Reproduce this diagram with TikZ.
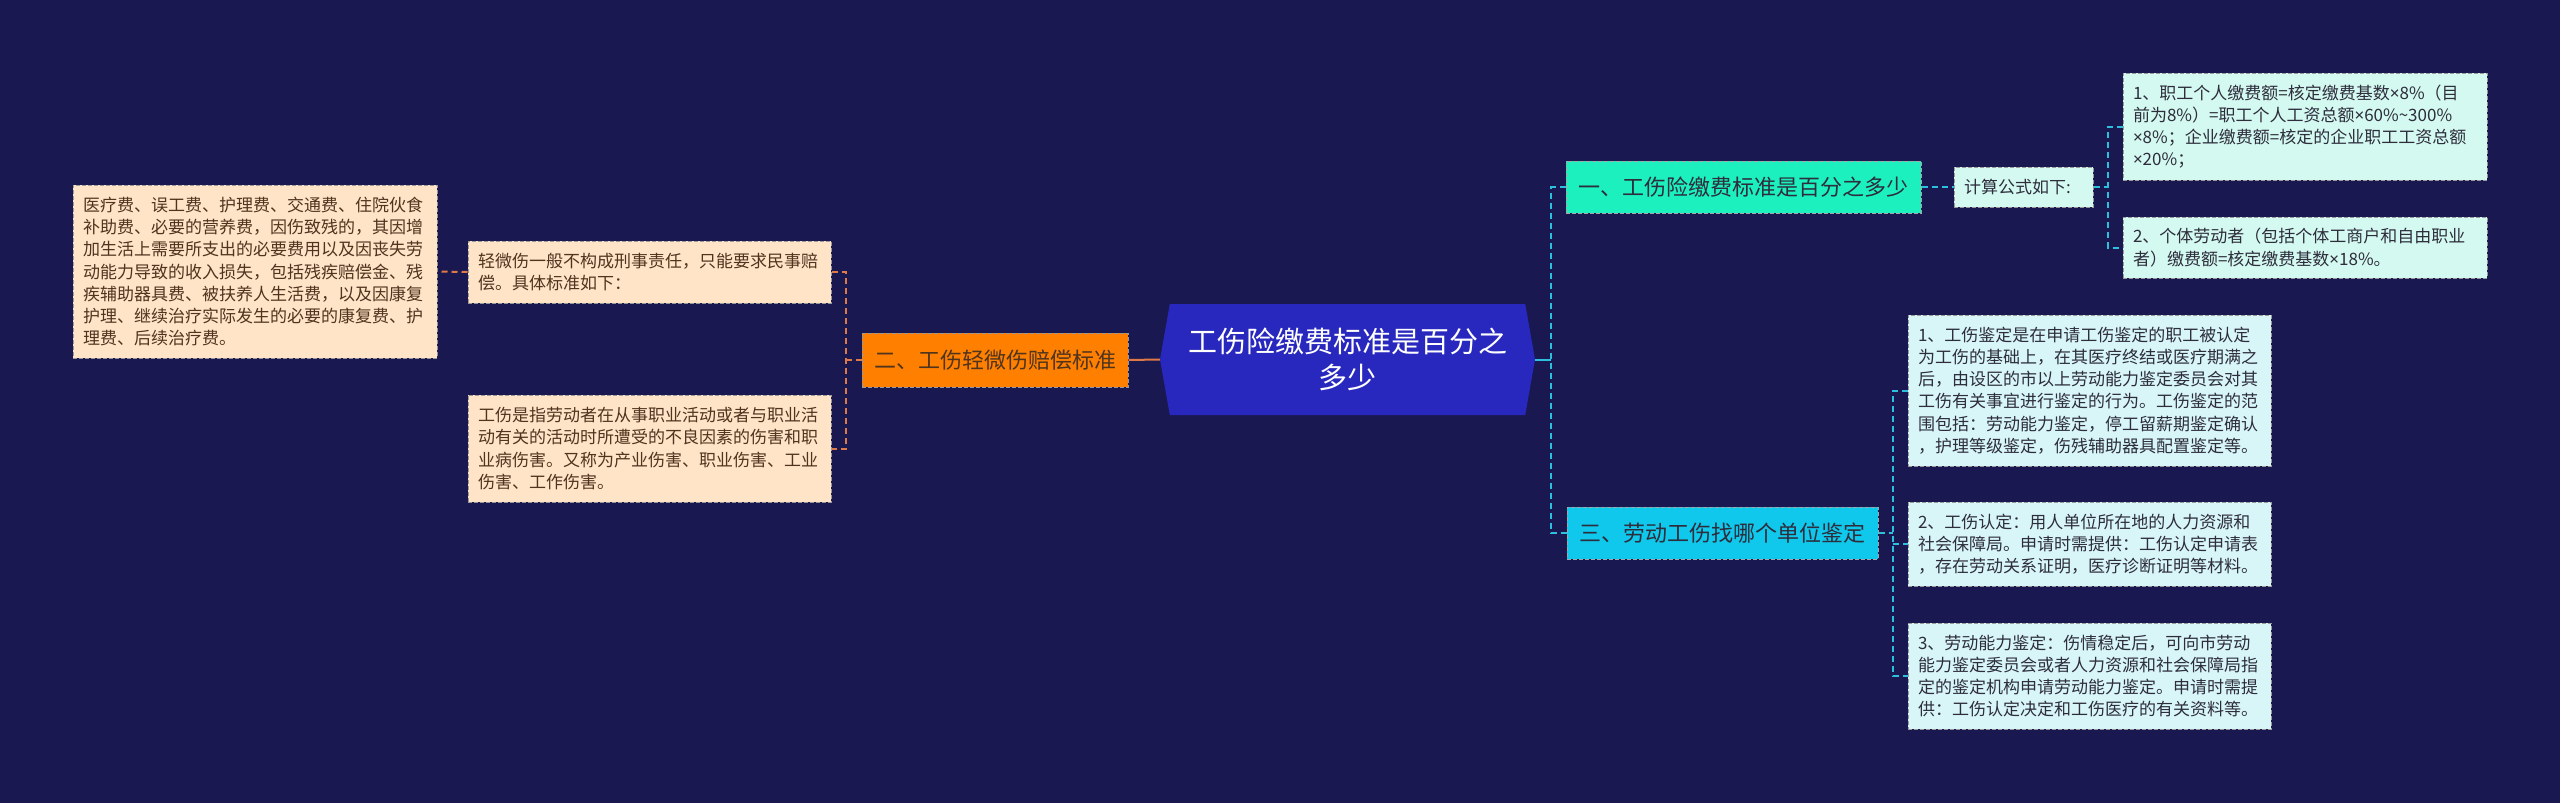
\documentclass[tikz,border=0pt]{standalone}
\usepackage{fontspec}
\setmainfont{Noto Sans CJK SC}
\newfontfamily\latinsans{Noto Sans}
\newcommand{\tms}{{\latinsans ×}}
\usetikzlibrary{positioning,shapes.symbols}
\definecolor{bgnavy}{RGB}{26,24,80}
\definecolor{rootblue}{RGB}{40,40,190}
\definecolor{mint}{RGB}{28,240,190}
\definecolor{skycyan}{RGB}{15,200,235}
\definecolor{orangeb}{RGB}{255,128,0}
\definecolor{mintleaf}{RGB}{212,249,240}
\definecolor{cyanleaf}{RGB}{216,246,248}
\definecolor{peach}{RGB}{255,228,200}
\definecolor{rline}{RGB}{45,192,222}
\definecolor{lline}{RGB}{222,122,72}
\definecolor{darktext}{RGB}{45,45,60}
\definecolor{browntext}{RGB}{80,52,30}
\tikzset{
  box/.style={rectangle, draw, align=left, inner xsep=10pt, inner ysep=0pt,
              line width=1pt, dash pattern=on 4pt off 2pt},
  leaf/.style={box, font=\fontsize{17}{22.2}\selectfont},
  rleaf/.style={leaf, fill=cyanleaf, draw=black!40, text=darktext},
  fleaf/.style={leaf, fill=mintleaf, draw=black!40, text=darktext},
  lleaf/.style={leaf, fill=peach, draw=black!40, text=browntext},
  branch/.style={box, align=center, font=\fontsize{22}{26}\selectfont, minimum height=52pt},
  rootnode/.style={signal, signal to=east and west, signal pointer angle=160,
                   fill=rootblue, text=white, align=center, inner sep=0pt,
                   minimum width=375pt, minimum height=111pt,
                   font=\fontsize{29}{36}\selectfont},
  rlink/.style={draw=rline, line width=2pt, dash pattern=on 6pt off 4pt},
  llink/.style={draw=lline, line width=2pt, dash pattern=on 6pt off 4pt},
}
\begin{document}
\begin{tikzpicture}[x=1pt, y=-1pt]
  \useasboundingbox[fill=bgnavy] (0,0) rectangle (2560,803);
  % centre
  \node[rootnode] (root) at (1347.5,359.5) {工伤险缴费标准是百分之\\多少};
  % right side
  \node[branch, fill=mint, draw=black!35, text=darktext, minimum width=355pt] (b1) at (1743.5,187) {一、工伤险缴费标准是百分之多少};
  \node[fleaf, text width=119pt, minimum height=40pt, right=32pt of b1] (calc) {计算公式如下:};
  \node[fleaf, text width=344pt, minimum height=107pt] (f1) at (2305,126.5) {1、职工个人缴费额=核定缴费基数\tms 8\%（目\\前为8\%）=职工个人工资总额\tms 60\%\textasciitilde300\%\\\tms 8\%；企业缴费额=核定的企业职工工资总额\\\tms 20\%；};
  \node[fleaf, text width=344pt, minimum height=61pt] (f2) at (2305,247.5) {2、个体劳动者（包括个体工商户和自由职业\\者）缴费额=核定缴费基数\tms 18\%。};
  \node[branch, fill=skycyan, draw=black!35, text=darktext, minimum width=311pt] (b3) at (1722.5,533) {三、劳动工伤找哪个单位鉴定};
  \node[rleaf, text width=343pt, minimum height=151pt] (r1) at (2089.5,390.5) {1、工伤鉴定是在申请工伤鉴定的职工被认定\\为工伤的基础上，在其医疗终结或医疗期满之\\后，由设区的市以上劳动能力鉴定委员会对其\\工伤有关事宜进行鉴定的行为。工伤鉴定的范\\围包括：劳动能力鉴定，停工留薪期鉴定确认\\，护理等级鉴定，伤残辅助器具配置鉴定等。};
  \node[rleaf, text width=343pt, minimum height=84pt] (r2) at (2089.5,544) {2、工伤认定：用人单位所在地的人力资源和\\社会保障局。申请时需提供：工伤认定申请表\\，存在劳动关系证明，医疗诊断证明等材料。};
  \node[rleaf, text width=343pt, minimum height=106pt] (r3) at (2089.5,676) {3、劳动能力鉴定：伤情稳定后，可向市劳动\\能力鉴定委员会或者人力资源和社会保障局指\\定的鉴定机构申请劳动能力鉴定。申请时需提\\供：工伤认定决定和工伤医疗的有关资料等。};
  % left side
  \node[branch, fill=orangeb, draw=black!40, text=browntext, minimum width=266pt, minimum height=54pt] (b2) at (995,360) {二、工伤轻微伤赔偿标准};
  \node[lleaf, text width=343pt, minimum height=62pt] (l2a) at (649.5,272) {轻微伤一般不构成刑事责任，只能要求民事赔\\偿。具体标准如下：};
  \node[lleaf, text width=343pt, minimum height=107pt] (l2b) at (649.5,448.5) {工伤是指劳动者在从事职业活动或者与职业活\\动有关的活动时所遭受的不良因素的伤害和职\\业病伤害。又称为产业伤害、职业伤害、工业\\伤害、工作伤害。};
  \node[lleaf, text width=344pt, minimum height=173pt] (l1) at (255,271.5) {医疗费、误工费、护理费、交通费、住院伙食\\补助费、必要的营养费，因伤致残的，其因增\\加生活上需要所支出的必要费用以及因丧失劳\\动能力导致的收入损失，包括残疾赔偿金、残\\疾辅助器具费、被扶养人生活费，以及因康复\\护理、继续治疗实际发生的必要的康复费、护\\理费、后续治疗费。};
  % joints
  \coordinate (rj) at (1551,359.5);
  \coordinate (cj) at (2108,187);
  \coordinate (tj) at (1893,533);
  \coordinate (lj) at (846,360);
  % connectors
  \draw[rlink, solid] (root.east) -- (rj);
  \draw[rlink] (b1.west) -- (b1.west -| rj) |- (b3.west);
  \draw[rlink] (b1.east) -- (calc.west);
  \draw[rlink] (calc.east) -- (cj);
  \draw[rlink] (f1.west) -- (f1.west -| cj) |- (f2.west);
  \draw[rlink] (b3.east) -- (tj);
  \draw[rlink] (r1.west) -- (r1.west -| tj) |- (r3.west);
  \draw[rlink] (r2.west -| tj) -- (r2.west);
  \draw[llink, solid] (root.west) -- (b2.east);
  \draw[llink] (b2.west) -- (lj);
  \draw[llink] (l2a.east) -- (l2a.east -| lj) |- (l2b.east);
  \draw[llink] (l2a.west) -- (l1.east);
\end{tikzpicture}
\end{document}
